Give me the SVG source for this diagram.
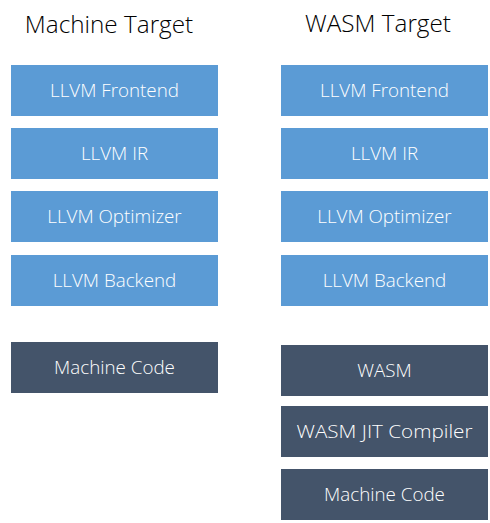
<svg xmlns="http://www.w3.org/2000/svg" width="490" height="523" viewBox="0 0 490 523">
<style>
.title{font-family:"Open Sans","Liberation Sans",sans-serif;font-weight:300;font-size:24.3px;fill:#000;text-anchor:middle}
.lbl{font-family:"Open Sans","Liberation Sans",sans-serif;font-weight:300;font-size:18.8px;fill:#fff;text-anchor:middle}
.blue{fill:#5b9bd5}
.dark{fill:#44546a}
</style>
<rect width="490" height="523" fill="#fff"/>
<text class="title" x="109" y="33">Machine Target</text>
<text class="title" x="378" y="32">WASM Target</text>
<g id="m-frontend"><rect class="blue" x="11" y="65" width="207" height="51"/><text class="lbl" x="114.5" y="97">LLVM Frontend</text></g>
<g id="m-ir"><rect class="blue" x="11" y="128" width="207" height="51"/><text class="lbl" x="114.5" y="160">LLVM IR</text></g>
<g id="m-optimizer"><rect class="blue" x="11" y="191" width="207" height="51"/><text class="lbl" x="114.5" y="223">LLVM Optimizer</text></g>
<g id="m-backend"><rect class="blue" x="11" y="255" width="207" height="51"/><text class="lbl" x="114.5" y="287">LLVM Backend</text></g>
<g id="m-machine"><rect class="dark" x="11" y="342" width="207" height="51"/><text class="lbl" x="114.5" y="374">Machine Code</text></g>
<g id="w-frontend"><rect class="blue" x="281" y="65" width="207" height="51"/><text class="lbl" x="384.5" y="97">LLVM Frontend</text></g>
<g id="w-ir"><rect class="blue" x="281" y="128" width="207" height="51"/><text class="lbl" x="384.5" y="160">LLVM IR</text></g>
<g id="w-optimizer"><rect class="blue" x="281" y="191" width="207" height="51"/><text class="lbl" x="384.5" y="223">LLVM Optimizer</text></g>
<g id="w-backend"><rect class="blue" x="281" y="255" width="207" height="51"/><text class="lbl" x="384.5" y="287">LLVM Backend</text></g>
<g id="w-wasm"><rect class="dark" x="281" y="345" width="207" height="51"/><text class="lbl" x="384.5" y="377">WASM</text></g>
<g id="w-jit"><rect class="dark" x="281" y="406" width="207" height="51"/><text class="lbl" x="384.5" y="438" textLength="176" lengthAdjust="spacingAndGlyphs">WASM JIT Compiler</text></g>
<g id="w-machine"><rect class="dark" x="281" y="469" width="207" height="51"/><text class="lbl" x="384.5" y="501">Machine Code</text></g>
<g id="connectors"></g>
</svg>
